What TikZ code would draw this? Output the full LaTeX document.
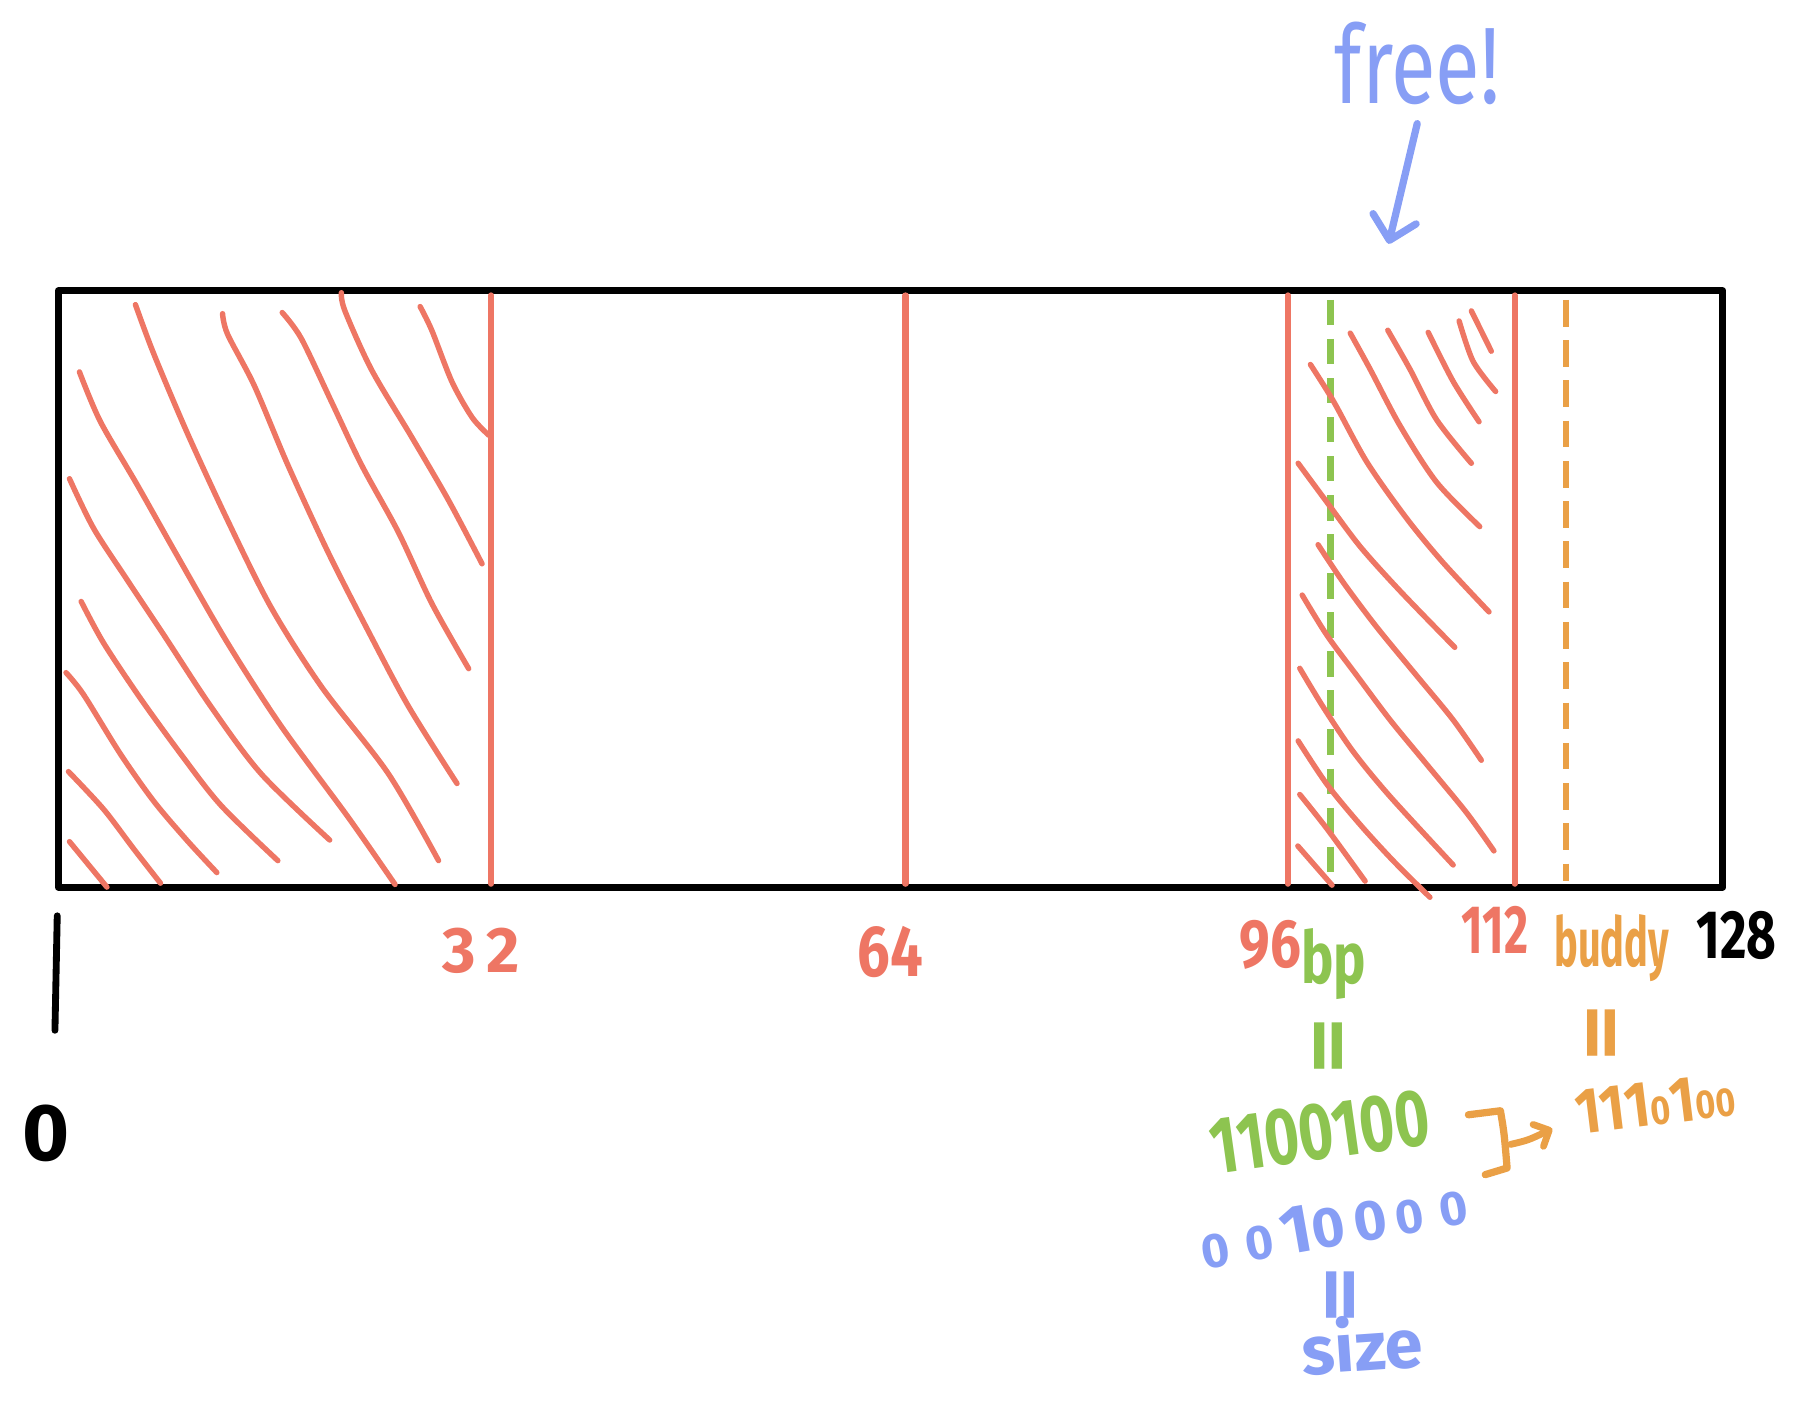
\documentclass[tikz,border=0pt]{standalone}
\usepackage{fontspec}
\setmainfont{Fira Sans}
\usetikzlibrary{arrows.meta}
\definecolor{cred}{RGB}{238,118,100}
\definecolor{cgreen}{RGB}{141,196,80}
\definecolor{corange}{RGB}{234,160,70}
\definecolor{cblue}{RGB}{135,158,245}
\newcommand{\fs}[1]{\fontsize{#1}{#1}\selectfont}
\begin{document}
\begin{tikzpicture}[x=0.01cm,y=-0.01cm,
  box/.style={draw=black,line width=1.7pt,line join=round},
  divider/.style={draw=cred,line width=1.5pt,line cap=round},
  hatch/.style={draw=cred,line width=1.35pt,line cap=round,line join=round},
  gdash/.style={draw=cgreen,line width=1.7pt,dash pattern=on 6.3pt off 3.4pt},
  odash/.style={draw=corange,line width=1.5pt,dash pattern=on 6.6pt off 3.4pt},
  lbl/.style={inner sep=0pt,outer sep=0pt},
  eqs/.style={lbl,rotate=90,xscale=1.3,font=\bfseries\fs{21pt}}]
\useasboundingbox (0,0) rectangle (1568,1230);
% main frame
\draw[box] (51,254) rectangle (1505,775);
% dividers
\draw[divider] (429,258) -- (429,772);
\draw[divider] (791,258) -- (791,772);
\draw[divider] (1125,258) -- (1125,772);
\draw[divider] (1323,258) -- (1323,772);
\draw[gdash] (1162,262) -- (1162,772);
\draw[odash] (1368,262) -- (1368,770);
% left hatching
\draw[hatch] plot[smooth] coordinates {(60.7,735.2) (93.4,774.9)};
\draw[hatch] plot[smooth] coordinates {(59.8,674) (90.5,706.9) (116.8,741.5) (140.2,771.5)};
\draw[hatch] plot[smooth] coordinates {(57.7,587.6) (72.9,606.6) (105.1,658.5) (134.4,700) (163.7,734.5) (189.4,762.2)};
\draw[hatch] plot[smooth] coordinates {(70.9,525.4) (90.5,561.7) (122.7,610.1) (157.8,658.5) (192.9,703.4) (242.7,751.8)};
\draw[hatch] plot[smooth] coordinates {(60.7,418.2) (81.7,461.4) (111,506.4) (143.2,554.8) (184.1,617) (228,675.8) (288,733.8)};
\draw[hatch] plot[smooth] coordinates {(69.4,324.9) (87.6,368.1) (119.8,423.4) (154.9,485.6) (198.8,561.7) (245.6,634.3) (304.1,713.8) (345.1,772.6)};
\draw[hatch] plot[smooth] coordinates {(118.3,266.1) (134.4,309.3) (163.7,378.5) (198.8,454.5) (236.8,530.6) (280.7,599.7) (339.2,675.8) (383.1,751.8)};
\draw[hatch] plot[smooth] coordinates {(194.4,274) (198.8,292) (222.2,337) (251.4,406.1) (286.5,482.2) (321.7,551.3) (356.8,617) (399.2,684.4)};
\draw[hatch] plot[smooth] coordinates {(246.5,273) (263.1,295.5) (289.5,350.8) (315.8,406.1) (348,464.9) (377.2,527.1) (409.4,584.1)};
\draw[hatch] plot[smooth] coordinates {(298.2,255.7) (301.2,271.3) (324.6,323.1) (359.7,381.9) (391.9,437.2) (421.1,492.5)};
\draw[hatch] plot[smooth] coordinates {(367,267.8) (377.2,288.6) (394.8,333.5) (412.4,364.6) (427,380.2)};
% right hatching
\draw[hatch] plot[smooth] coordinates {(1285.3,271.6) (1302.7,306.8)};
\draw[hatch] plot[smooth] coordinates {(1274.6,280.4) (1286.8,315.6) (1306.5,342)};
\draw[hatch] plot[smooth] coordinates {(1247.6,290.3) (1269.4,333.2) (1292,368.4)};
\draw[hatch] plot[smooth] coordinates {(1212.3,288.5) (1231.7,322.6) (1254.9,366.6) (1285.3,404.7)};
\draw[hatch] plot[smooth] coordinates {(1179.5,291) (1196.9,322.6) (1223,371.9) (1254.9,421.2) (1292.6,460)};
\draw[hatch] plot[smooth] coordinates {(1144.7,318.4) (1165,350.8) (1194,403.6) (1228.8,452.9) (1260.7,491.6) (1300.7,534.5)};
\draw[hatch] plot[smooth] coordinates {(1134,404.7) (1159.2,438.8) (1188.2,477.5) (1223,516.2) (1270.8,565.5)};
\draw[hatch] plot[smooth] coordinates {(1151.4,475.8) (1173.7,509.2) (1202.7,547.9) (1237.5,590.2) (1269.4,628.9) (1294,664.1)};
\draw[hatch] plot[smooth] coordinates {(1137.5,519.8) (1159.2,555) (1185.3,590.2) (1214.3,628.9) (1246.2,667.6) (1281,709.8) (1305,743.3)};
\draw[hatch] plot[smooth] coordinates {(1135.4,583.8) (1156.3,618.3) (1182.4,657) (1214.3,695.8) (1269.4,755.6)};
\draw[hatch] plot[smooth] coordinates {(1134,647.2) (1159.2,685.2) (1188.2,720.4) (1217.2,752.1) (1249.1,783.8)};
\draw[hatch] plot[smooth] coordinates {(1135.4,694) (1159.2,724) (1192.5,769.7)};
\draw[hatch] plot[smooth] coordinates {(1133.7,739) (1163.6,773.2)};
% zero marker
\coordinate (ticktop) at (50,800);
\coordinate (tickbot) at (48,900);
\draw[line width=1.7pt,line cap=round] (ticktop) -- (tickbot);
\node[lbl,font=\bfseries\fs{20pt}] (zero) at (40,990) {0};
% axis labels
\node[lbl,text=cred,font=\bfseries\fs{16pt}] (n32) at (420,831) {3\,2};
\node[lbl,text=cred,font=\bfseries\fs{18pt},xscale=0.8] (n64) at (778,832) {64};
\node[lbl,text=cred,font=\bfseries\fs{17pt},xscale=0.8] (n96) at (1110,825) {96};
\node[lbl,text=cgreen,font=\bfseries\fs{18pt},xscale=0.75] (bp) at (1165,842) {bp};
\node[lbl,text=cred,font=\bfseries\fs{17pt},xscale=0.68] (n112) at (1306,812) {112};
\node[lbl,text=corange,font=\bfseries\fs{17pt},xscale=0.58] (buddy) at (1408,828) {buddy};
\node[lbl,font=\bfseries\fs{17pt},xscale=0.75] (n128) at (1517,817) {128};
% free!
\node[lbl,text=cblue,font=\fs{27pt},xscale=0.75] (free) at (1238,55) {free!};
\coordinate (freestart) at (1238,108);
\coordinate (freetip) at (1213,213);
\draw[cblue,line width=1.8pt,line cap=round,-{Straight Barb[length=5.5pt,width=11pt,round]}] (freestart) -- (freetip);
% bp binary
\node[eqs,text=cgreen] (geq) at (1167,914) {=};
\node[lbl,text=cgreen,font=\bfseries\fs{20pt},rotate=8,xscale=0.74] (bprow) at (1153,989) {1100100};
\node[lbl,text=cblue,font=\bfseries,rotate=10] (sizerow) at (1165,1069) {\fs{12pt}0\,\,0\,\fs{17pt}1\fs{14pt}0\,0\,\fs{12pt}0\,\,0};
\node[eqs,text=cblue] (beq) at (1177,1131) {=};
\node[lbl,text=cblue,font=\bfseries\fs{17pt},rotate=4] (size) at (1190,1174) {size};
% buddy binary
\node[eqs,text=corange] (oeq) at (1405,902) {=};
\node[lbl,text=corange,font=\bfseries,rotate=7,xscale=0.85] (buddyrow) at (1446,964) {\fs{16pt}111\fs{10pt}0\fs{16pt}1\fs{10pt}00};
% bracket and arrow
\coordinate (brA) at (1282.7,973.8);
\coordinate (brB) at (1310.7,970.3);
\coordinate (brC) at (1316.5,1020.3);
\coordinate (brD) at (1297.4,1026.1);
\draw[corange,line width=1.8pt,line cap=round,line join=round] (brA) -- (brB) .. controls (1314,990) .. (brC) -- (brD);
\coordinate (arS) at (1319.5,999.7);
\coordinate (arE) at (1356,986);
\draw[corange,line width=1.7pt,line cap=round,-{Straight Barb[length=3pt,width=6pt,round]}] (arS) .. controls (1335,996) .. (arE);
\end{tikzpicture}
\end{document}
